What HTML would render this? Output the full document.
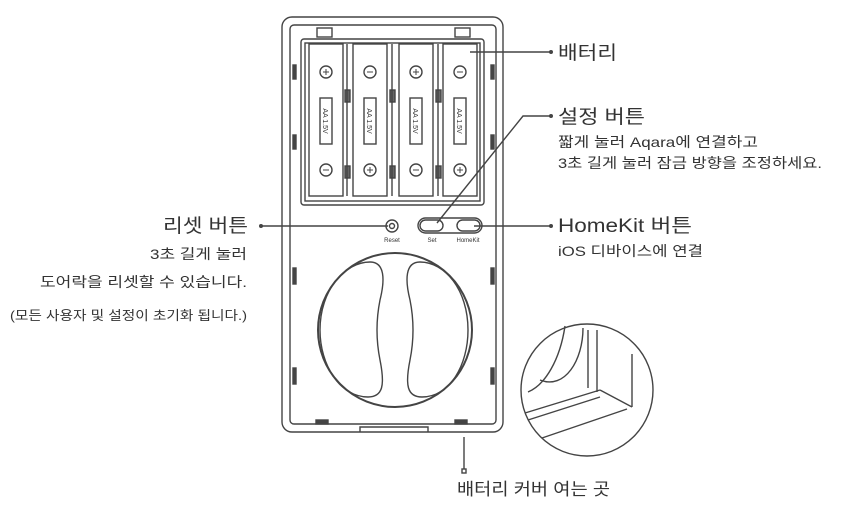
<!DOCTYPE html>
<html><head><meta charset="utf-8"><style>
html,body{margin:0;padding:0;background:#fff;}
svg{display:block;}
text{font-family:"Liberation Sans","Noto Sans CJK KR",sans-serif;fill:#333;}
</style></head><body>
<svg width="845" height="508" viewBox="0 0 845 508" xmlns="http://www.w3.org/2000/svg">
<g fill="none" stroke="#444" stroke-width="1.4">
<rect x="282" y="17" width="221" height="415" rx="10"/>
<rect x="290" y="25" width="206" height="399" rx="4"/>
<path d="M360 432 V427 H428 V432"/>
<rect x="316" y="420" width="12" height="4" fill="#444"/>
<rect x="455" y="420" width="12" height="4" fill="#444"/>
<rect x="293" y="65" width="3" height="14" fill="#444"/>
<rect x="293" y="135" width="3" height="14" fill="#444"/>
<rect x="293" y="268" width="3" height="16" fill="#444"/>
<rect x="293" y="368" width="3" height="16" fill="#444"/>
<rect x="491" y="65" width="3" height="14" fill="#444"/>
<rect x="491" y="135" width="3" height="14" fill="#444"/>
<rect x="491" y="268" width="3" height="16" fill="#444"/>
<rect x="491" y="368" width="3" height="16" fill="#444"/>
<rect x="317" y="28" width="15" height="9"/>
<rect x="455" y="28" width="15" height="9"/>
<rect x="301" y="39" width="183" height="166" rx="3"/>
<rect x="305" y="43" width="175" height="158"/>
<g>
<rect x="309" y="44" width="34" height="152"/>
<rect x="353" y="44" width="34" height="152"/>
<rect x="399" y="44" width="34" height="152"/>
<rect x="443" y="44" width="34" height="152"/>
<rect x="345" y="90" width="5" height="12" fill="#666"/>
<rect x="345" y="166" width="5" height="12" fill="#666"/>
<rect x="390" y="90" width="5" height="12" fill="#666"/>
<rect x="390" y="166" width="5" height="12" fill="#666"/>
<rect x="436" y="90" width="5" height="12" fill="#666"/>
<rect x="436" y="166" width="5" height="12" fill="#666"/>
<line x1="347" y1="44" x2="347" y2="196"/>
<line x1="392" y1="44" x2="392" y2="196"/>
<line x1="438" y1="44" x2="438" y2="196"/>
<circle cx="326" cy="72" r="6"/><circle cx="370" cy="72" r="6"/><circle cx="416" cy="72" r="6"/><circle cx="460" cy="72" r="6"/>
<circle cx="326" cy="170" r="6"/><circle cx="370" cy="170" r="6"/><circle cx="416" cy="170" r="6"/><circle cx="460" cy="170" r="6"/>
<path d="M323 72h6M326 69v6M367 72h6M413 72h6M416 69v6M457 72h6M323 170h6M367 170h6M370 167v6M413 170h6M457 170h6M460 167v6" stroke-width="1"/>
<rect x="320" y="98" width="12" height="46"/>
<rect x="364" y="98" width="12" height="46"/>
<rect x="410" y="98" width="12" height="46"/>
<rect x="454" y="98" width="12" height="46"/>
</g>
<circle cx="392" cy="226" r="6"/>
<circle cx="392" cy="226" r="2.5"/>
<rect x="418" y="218" width="64" height="15" rx="7.5"/>
<rect x="420" y="220" width="23" height="11" rx="5.5"/>
<rect x="457" y="220" width="23" height="11" rx="5.5"/>
<circle cx="395" cy="330" r="77" stroke-width="2"/>
<path d="M370 262 C385 262 385 280 380 300 C376 320 376 340 380 360 C385 385 383 397 368 397 C340 397 320 365 320 330 C320 290 345 262 370 262 Z"/>
<path d="M420 262 C405 262 405 280 410 300 C414 320 414 340 410 360 C405 385 407 397 422 397 C450 397 468 365 468 330 C468 290 445 262 420 262 Z"/>
<circle cx="587" cy="390" r="66"/>
<path d="M583 328 C583 360 565 390 540 380"/>
<path d="M565 326 C560 360 545 385 528 392"/>
<path d="M588 330 V388 M597 330 V392 M600 390 L632 407 M632 354 V407 M600 390 L525 413 M627 409 L542 438 M528 420 L600 397"/>
<line x1="470" y1="52" x2="550" y2="52"/>
<polyline points="437,223 523,116 550,116"/>
<line x1="474" y1="226" x2="550" y2="226"/>
<line x1="262" y1="226" x2="388" y2="226"/>
<line x1="464" y1="437" x2="464" y2="469"/>
<rect x="462" y="469" width="4" height="4"/>
</g>
<g fill="#444">
<circle cx="551" cy="52" r="2"/><circle cx="551" cy="116" r="2"/><circle cx="551" cy="226" r="2"/><circle cx="261" cy="226" r="2"/>
</g>
<g font-size="6" text-anchor="middle">
<text x="392" y="242">Reset</text><text x="432" y="242">Set</text><text x="468" y="242">HomeKit</text>
</g>
<g font-size="7" text-anchor="middle">
<text transform="translate(323,121) rotate(90)">AA 1.5V</text>
<text transform="translate(367,121) rotate(90)">AA 1.5V</text>
<text transform="translate(413,121) rotate(90)">AA 1.5V</text>
<text transform="translate(457,121) rotate(90)">AA 1.5V</text>
</g>
<text x="558" y="59" font-size="19" textLength="59" lengthAdjust="spacingAndGlyphs">배터리</text>
<text x="558" y="123" font-size="19" textLength="87" lengthAdjust="spacingAndGlyphs">설정 버튼</text>
<text x="558" y="147" font-size="14" textLength="200" lengthAdjust="spacingAndGlyphs">짧게 눌러 Aqara에 연결하고</text>
<text x="558" y="168" font-size="14" textLength="264" lengthAdjust="spacingAndGlyphs">3초 길게 눌러 잠금 방향을 조정하세요.</text>
<text x="558" y="232" font-size="19" textLength="134" lengthAdjust="spacingAndGlyphs">HomeKit 버튼</text>
<text x="558" y="256" font-size="14" textLength="145" lengthAdjust="spacingAndGlyphs">iOS 디바이스에 연결</text>
<text x="163" y="232" font-size="19" textLength="85" lengthAdjust="spacingAndGlyphs">리셋 버튼</text>
<text x="150" y="259" font-size="14" textLength="97" lengthAdjust="spacingAndGlyphs">3초 길게 눌러</text>
<text x="40" y="287" font-size="14" textLength="207" lengthAdjust="spacingAndGlyphs">도어락을 리셋할 수 있습니다.</text>
<text x="10" y="320" font-size="13" textLength="237" lengthAdjust="spacingAndGlyphs">(모든 사용자 및 설정이 초기화 됩니다.)</text>
<text x="457" y="495" font-size="17" textLength="153" lengthAdjust="spacingAndGlyphs">배터리 커버 여는 곳</text>
</svg>
</body></html>
